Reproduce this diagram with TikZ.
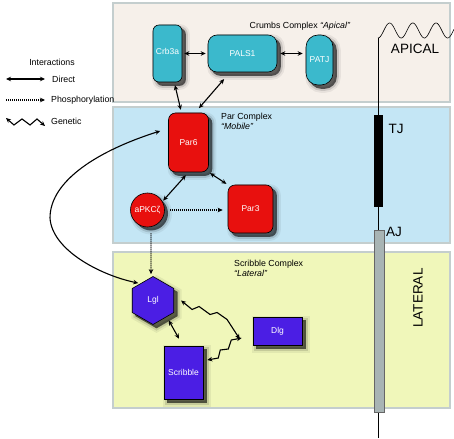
\documentclass[tikz,border=0pt]{standalone}
\usepackage{fontspec}
\setmainfont{Liberation Sans}
\usetikzlibrary{arrows.meta,shapes.geometric,calc}
\definecolor{teal}{RGB}{59,185,204}
\definecolor{pred}{RGB}{232,16,14}
\definecolor{ppurple}{RGB}{75,30,228}
\definecolor{apbg}{RGB}{246,240,234}
\definecolor{parbg}{RGB}{196,230,245}
\definecolor{scrbg}{RGB}{240,247,186}
\definecolor{pborder}{RGB}{196,206,206}
\definecolor{ajgray}{RGB}{168,180,180}
\pgfdeclarelayer{panels}
\pgfdeclarelayer{shadows}
\pgfsetlayers{panels,shadows,main}
\begin{document}
\begin{tikzpicture}[x=1pt,y=-1pt,
  >={Stealth[length=5pt,width=4.5pt]},
  panel/.style={draw=pborder,line width=2.5pt},
  shadowfx/.style={preaction={draw=black,opacity=0.06,line width=8pt},
    preaction={draw=black,opacity=0.12,line width=4pt},
    fill=black,fill opacity=0.6},
  protein/.style={draw=black,line width=0.6pt,text=white,inner sep=0pt,
    font=\fontsize{8.5}{10}\selectfont},
  crbox/.style={protein,fill=teal},
  parbox/.style={protein,fill=pred},
  scrbox/.style={protein,fill=ppurple},
  lbl/.style={font=\fontsize{8.8}{10}\selectfont,inner sep=0pt},
  big/.style={font=\fontsize{13.5}{15}\selectfont,inner sep=0pt},
  direct/.style={<->,line width=1.1pt},
  phos/.style={->,line width=1.1pt,dash pattern=on 1pt off 1pt},
  genetic/.style={<->,line width=1.1pt,line join=miter}]
\useasboundingbox (0,0) rectangle (454,438);

% panels
\begin{pgfonlayer}{panels}
\draw[panel,fill=apbg] (113,3) rectangle (450,102);
\draw[panel,fill=parbg] (113,107) rectangle (450,243);
\draw[panel,fill=scrbg] (113,252) rectangle (450,408);
\end{pgfonlayer}

% membrane
\draw[line width=0.6pt] (378,438) -- (378,38);
\draw[line width=0.6pt] plot[domain=0:76,samples=120] ({378+\x},{30.5+7.5*cos(\x/23.2*360)});
\fill[black] (374,115) rectangle (383,207);
\draw[fill=ajgray,draw=black!60,line width=0.5pt] (374,230) rectangle (384,412);
\node[big] (apical) at (415,49) {APICAL};
\node[big] (tj) at (396,129) {TJ};
\node[big] (aj) at (394,232) {AJ};
\node[big,rotate=90] (lateral) at (418,298) {LATERAL};

% panel labels
\node[lbl] (crumbslbl) at (300,26) {Crumbs Complex \textit{“Apical”}};
\node[lbl,anchor=north west,align=left] (parlbl) at (221,113) {Par Complex\\\textit{“Mobile”}};
\node[lbl,anchor=north west,align=left] (scrlbl) at (234,260) {Scribble Complex\\\textit{“Lateral”}};

% proteins
\node[crbox,rounded corners=6pt,minimum width=29pt,minimum height=57pt] (crb) at (167.5,53.5) {\raisebox{4pt}{Crb3a}};
\node[crbox,rounded corners=9pt,minimum width=69pt,minimum height=37pt] (pals) at (242.5,53.5) {PALS1};
\node[crbox,rounded corners=12pt,minimum width=27pt,minimum height=50pt] (patj) at (319.5,60) {PATJ};
\node[parbox,rounded corners=7pt,minimum width=40pt,minimum height=59pt] (par6) at (188.5,142.5) {Par6};
\node[parbox,circle,minimum size=34pt] (apkc) at (147.5,210) {aPKCζ};
\node[parbox,rounded corners=7pt,minimum width=45pt,minimum height=48pt] (par3) at (250.5,209) {Par3};
\node[scrbox,regular polygon,regular polygon sides=6,shape border rotate=30,minimum size=48pt] (lgl) at (153,300.5) {Lgl};
\node[scrbox,minimum width=49pt,minimum height=28pt] (dlg) at (277.5,331) {Dlg\hspace{12pt}};
\node[scrbox,minimum width=39pt,minimum height=53pt] (scr) at (183.5,372.5) {Scribble};

% shadows of the proteins
\begin{pgfonlayer}{shadows}
\begin{scope}[transform canvas={xshift=3.5pt,yshift=-3.5pt}]
\path[shadowfx,rounded corners=6pt] (crb.south west) rectangle (crb.north east);
\path[shadowfx,rounded corners=9pt] (pals.south west) rectangle (pals.north east);
\path[shadowfx,rounded corners=12pt] (patj.south west) rectangle (patj.north east);
\path[shadowfx,rounded corners=7pt] (par6.south west) rectangle (par6.north east);
\path[shadowfx] (apkc.center) circle[radius=17pt];
\path[shadowfx,rounded corners=7pt] (par3.south west) rectangle (par3.north east);
\path[shadowfx] (lgl.corner 1) -- (lgl.corner 2) -- (lgl.corner 3) -- (lgl.corner 4) -- (lgl.corner 5) -- (lgl.corner 6) -- cycle;
\path[shadowfx] (dlg.south west) rectangle (dlg.north east);
\path[shadowfx] (scr.south west) rectangle (scr.north east);
\end{scope}
\end{pgfonlayer}

% connectors
\draw[direct,shorten <=2pt,shorten >=2pt] (crb.east) -- (pals.west);
\draw[direct,shorten <=3pt,shorten >=3pt] (pals.east) -- (pals.east -| patj.west);
\draw[direct,shorten <=3pt,shorten >=3pt] (crb) -- (par6);
\draw[direct,shorten <=9pt,shorten >=6pt] ([xshift=-12.5pt]pals.south) -- ([xshift=6.5pt]par6.north);
\draw[direct,shorten <=4pt,shorten >=1pt] (par6.south) -- (apkc.30);
\draw[direct,shorten <=1.5pt,shorten >=1.5pt] (par6.south east) -- (par3.north west);
\draw[phos,shorten <=5pt,shorten >=5pt] (apkc.east) -- (apkc.east -| par3.west);
\draw[phos,shorten <=6pt,shorten >=2pt] ([xshift=3.5pt]apkc.south) -- ([xshift=-2pt]lgl.north);
\draw[direct] ([xshift=-8pt,yshift=11.5pt]par6.west) .. controls (100,150) and (50,180) .. (50,218)
  .. controls (52,250) and (100,275) .. ([xshift=-1pt,yshift=1pt]lgl.130);
\draw[direct,shorten <=4pt,shorten >=0pt] (lgl.-50) -- ([xshift=-4.5pt,yshift=7pt]scr.north);
\draw[genetic] ([xshift=7pt]lgl.east) -- ++(11,9) -- ++(7,-3) -- ++(11,8) -- ++(7,-2) -- ++(10,7) -- ([xshift=-13pt,yshift=-8pt]dlg.west);
\draw[genetic] ([xshift=4pt,yshift=12.5pt]scr.east) -- ++(11,-2) -- ++(2,-8) -- ++(8,-1) -- ++(3,-9) -- ([xshift=-11pt,yshift=-7pt]dlg.west);

% legend
\node[lbl] (legtitle) at (52,62) {Interactions};
\coordinate (d1) at (6,79); \coordinate (d2) at (45,79);
\coordinate (p1) at (6,100); \coordinate (p2) at (45,100);
\coordinate (g1) at (6,118); \coordinate (g2) at (45,126);
\draw[direct] (d1) -- (d2);
\draw[phos] (p1) -- (p2);
\draw[genetic] (g1) -- (14,125) -- (22,119) -- (30,125) -- (37,119) -- (g2);
\node[lbl,anchor=west] (legd) at (52,79) {Direct};
\node[lbl,anchor=west] (legp) at (51,100) {Phosphorylation};
\node[lbl,anchor=west] (legg) at (51,121) {Genetic};
\end{tikzpicture}
\end{document}
